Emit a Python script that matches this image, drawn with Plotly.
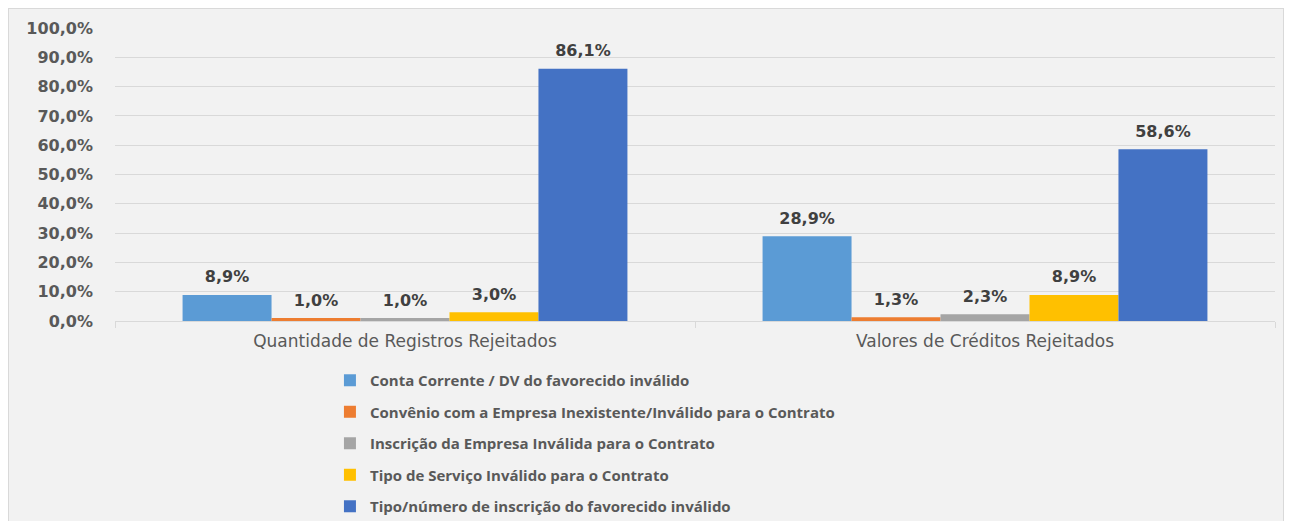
import plotly.graph_objects as go

categories = ["Quantidade de Registros Rejeitados", "Valores de Créditos Rejeitados"]
series_names = [
    "Conta Corrente / DV do favorecido inválido",
    "Convênio com a Empresa Inexistente/Inválido para o Contrato",
    "Inscrição da Empresa Inválida para o Contrato",
    "Tipo de Serviço Inválido para o Contrato",
    "Tipo/número de inscrição do favorecido inválido",
]
values = [
    [8.9, 28.9],
    [1.0, 1.3],
    [1.0, 2.3],
    [3.0, 8.9],
    [86.1, 58.6],
]
colors = ["#5B9BD5", "#ED7D31", "#A5A5A5", "#FFC000", "#4472C4"]
y_ticks = list(range(0, 101, 10))
y_tick_labels = [f"{v},0%" for v in y_ticks]

LEG_FONT = "Open Sans"
NUM_FONT = "DejaVu Sans"

W, H = 1276, 521
L, R, T, B = 107, 9, 20, 208
PW, PH = W - L - R, H - T - B

fig = go.Figure()
for i, (name, vals, col) in enumerate(zip(series_names, values, colors)):
    fig.add_trace(go.Bar(
        x=categories, y=vals, name=name,
        marker=dict(color=col, line=dict(width=0)),
        offsetgroup=str(i),
        legendgroup=f"g{i}",
    ))
for i, vals in enumerate(values):
    fig.add_trace(go.Scatter(
        x=categories, y=vals, mode="markers+text",
        marker=dict(size=12, opacity=0),
        text=[f"{v:.1f}%".replace(".", ",") for v in vals],
        textposition="top center",
        textfont=dict(family=NUM_FONT, size=16, color="#404040", weight="bold"),
        offsetgroup=str(i),
        showlegend=False, hoverinfo="skip", cliponaxis=False,
    ))

fig.update_layout(
    width=W, height=H,
    margin=dict(l=L, r=R, t=T, b=B, autoexpand=False),
    paper_bgcolor="#F2F2F2",
    plot_bgcolor="#F2F2F2",
    barmode="group",
    bargap=0.233,
    bargroupgap=0,
    scattermode="group",
    scattergap=0.233,
    showlegend=True,
    legend=dict(
        orientation="v",
        x=0.1853, xanchor="left",
        y=-0.1468, yanchor="top",
        font=dict(family=LEG_FONT, size=15, color="#595959", weight="bold"),
        tracegroupgap=9,
        bgcolor="rgba(0,0,0,0)",
    ),
    shapes=[dict(
        type="rect", xref="paper", yref="paper",
        x0=-L / PW, x1=1 + R / PW, y0=-B / PH, y1=1 + T / PH,
        fillcolor="rgba(0,0,0,0)", line=dict(color="#D9D9D9", width=2),
        layer="below",
    )],
)
fig.update_yaxes(
    range=[0, 100], tickvals=y_ticks, ticktext=y_tick_labels,
    showgrid=True, gridcolor="#D9D9D9", gridwidth=1,
    zeroline=False, showline=False,
    tickfont=dict(family=NUM_FONT, size=16, color="#595959", weight="bold"),
    ticklabelstandoff=21,
)
fig.update_xaxes(
    showline=True, linecolor="#D9D9D9", linewidth=1,
    ticks="outside", tickson="boundaries", ticklen=6, tickcolor="#D9D9D9",
    tickfont=dict(family=NUM_FONT, size=17, color="#595959"),
    ticklabelstandoff=5,
)

fig.write_html("out.html")
